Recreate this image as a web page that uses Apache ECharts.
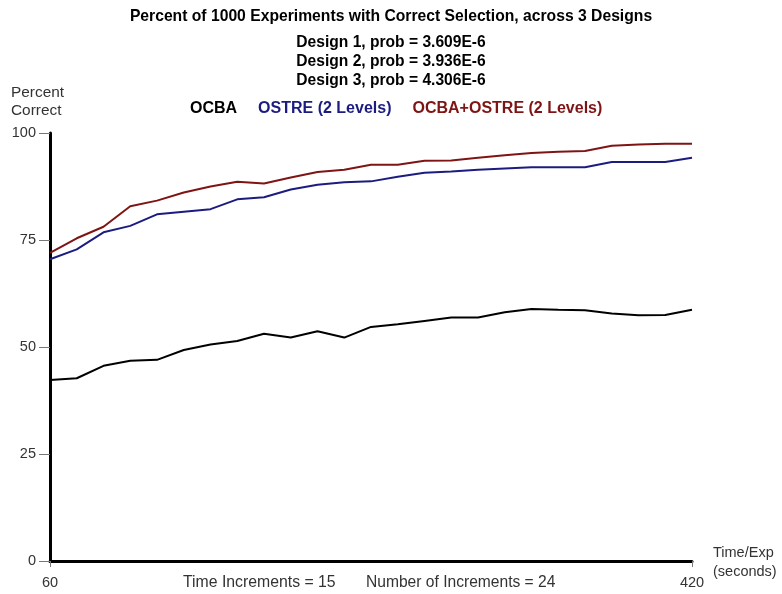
<!DOCTYPE html>
<html>
<head>
<meta charset="utf-8">
<script src="https://cdn.jsdelivr.net/npm/echarts@6/dist/echarts.min.js"></script>
<style>html,body{margin:0;padding:0;background:#fff;}#c{width:782px;height:594px;}</style>
</head>
<body>
<div id="c"></div>
<script>
var times = [60,75,90,105,120,135,150,165,180,195,210,225,240,255,270,285,300,315,330,345,360,375,390,405,420];
var ocba = [42.3,42.7,45.6,46.8,47.0,49.3,50.6,51.4,53.1,52.2,53.7,52.2,54.7,55.3,56.1,56.9,56.9,58.1,58.9,58.7,58.6,57.8,57.4,57.5,58.7];
var ostre = [70.5,72.8,76.8,78.3,81.0,81.6,82.2,84.5,85.0,86.8,87.9,88.5,88.7,89.8,90.7,91.0,91.4,91.7,92.0,92.0,92.0,93.2,93.2,93.2,94.2];
var both = [72.0,75.4,78.1,82.9,84.2,86.1,87.5,88.6,88.2,89.6,90.9,91.4,92.6,92.6,93.5,93.6,94.2,94.8,95.3,95.6,95.8,97.0,97.3,97.5,97.5];
var yTicks = [0,25,50,75,100];
var xLabels = [60,420];
var seriesNames = ['OCBA','OSTRE (2 Levels)','OCBA+OSTRE (2 Levels)'];
var seriesColors = ['#000000','#1c1c80','#7f1414'];
var titleLines = ['Percent of 1000 Experiments with Correct Selection, across 3 Designs','Design 1, prob = 3.609E-6','Design 2, prob = 3.936E-6','Design 3, prob = 4.306E-6'];

function pairs(arr){ return arr.map(function(v,i){ return [times[i], v]; }); }
var seriesData = [ocba, ostre, both];

var font = '"Liberation Sans", Arial, sans-serif';
var chart = echarts.init(document.getElementById('c'), null, {renderer:'canvas'});
var titles = titleLines.map(function(t,i){
  return {text:t, left:'center', top: i===0 ? 4 : 29.5 + (i-1)*19.3,
    textStyle:{fontFamily:font, fontWeight:'bold', fontSize: i===0 ? 15.7 : 15.6, color:'#000'}};
});
chart.setOption({
  animation:false,
  title: titles,
  legend:{
    data: seriesNames.map(function(n,i){ return {name:n, textStyle:{color:seriesColors[i], fontFamily:font, fontWeight:'bold', fontSize:16}}; }),
    left: 179, top: 96, itemWidth:0, itemHeight:0, itemGap:15,
    textStyle:{fontFamily:font, fontWeight:'bold', fontSize:16}
  },
  grid:{left:50, right:90, top:133, bottom:33, containLabel:false},
  xAxis:{
    type:'value', min:60, max:420, interval:15,
    axisLine:{show:true, onZero:false, lineStyle:{color:'#000', width:3}},
    axisTick:{show:true, customValues:xLabels, length:6, lineStyle:{color:'#777', width:1}},
    axisLabel:{customValues:xLabels, margin:14, fontFamily:font, fontSize:14.5, color:'#333'},
    splitLine:{show:false}
  },
  yAxis:{
    type:'value', min:0, max:100, interval:25,
    axisLine:{show:true, lineStyle:{color:'#000', width:3}},
    axisTick:{show:true, length:11, lineStyle:{color:'#777', width:1}},
    axisLabel:{margin:14, fontFamily:font, fontSize:14.5, color:'#333'},
    splitLine:{show:false}
  },
  graphic:[
    {type:'text', left:11, top:84, style:{text:'Percent\nCorrect', font:'15.4px '+font, fill:'#333', lineHeight:18}},
    {type:'text', left:713, top:543, style:{text:'Time/Exp\n(seconds)', font:'14.5px '+font, fill:'#333', lineHeight:19}},
    {type:'text', left:183, top:575, style:{text:'Time Increments = 15', font:'15.8px '+font, fill:'#333'}},
    {type:'text', left:366, top:575, style:{text:'Number of Increments = 24', font:'15.6px '+font, fill:'#333'}}
  ],
  series: seriesNames.map(function(n,i){
    return {name:n, type:'line', data:pairs(seriesData[i]), symbol:'none', smooth:false,
      lineStyle:{color:seriesColors[i], width:2}, itemStyle:{color:seriesColors[i]}};
  })
});
</script>
</body>
</html>
